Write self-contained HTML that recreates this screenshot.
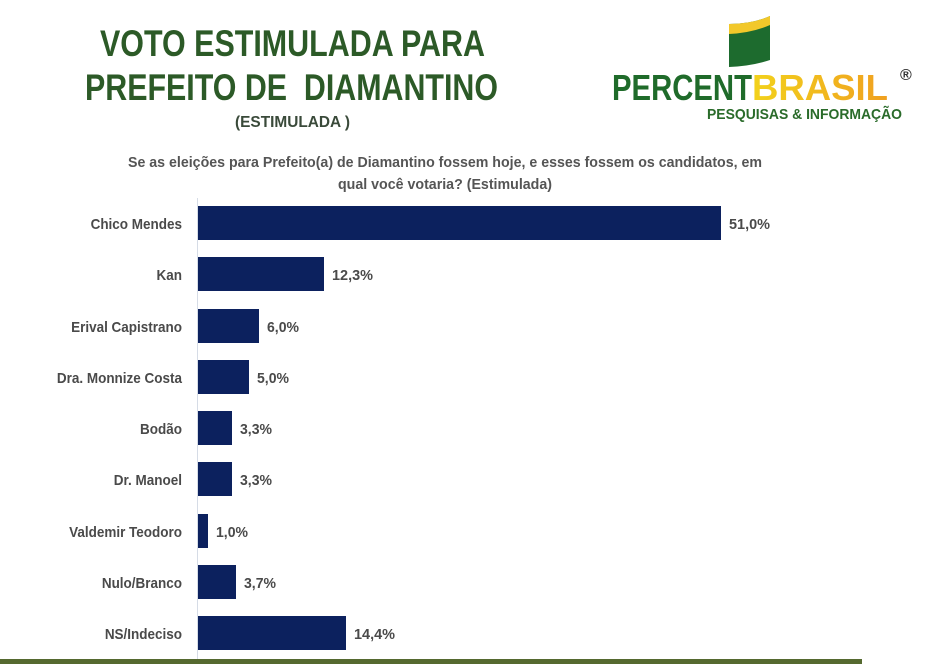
<!DOCTYPE html>
<html><head><meta charset="utf-8"><style>
html,body{margin:0;padding:0;background:#fff;}
svg{display:block;}
text{font-family:"Liberation Sans",sans-serif;font-weight:bold;}
</style></head><body>
<svg width="949" height="664" viewBox="0 0 949 664" xmlns="http://www.w3.org/2000/svg">
<defs>
<linearGradient id="yg" x1="0" x2="1"><stop offset="0" stop-color="#f2d21c"/><stop offset="1" stop-color="#f0a020"/></linearGradient>
</defs>
<rect width="949" height="664" fill="#fff"/>
<text x="100" y="56" font-size="37" fill="#2c5a27" textLength="385" lengthAdjust="spacingAndGlyphs">VOTO ESTIMULADA PARA</text>
<text x="85" y="100" font-size="37" fill="#2c5a27" textLength="413" lengthAdjust="spacingAndGlyphs" xml:space="preserve">PREFEITO DE  DIAMANTINO</text>
<text x="235" y="127" font-size="16" fill="#3a4a3a" textLength="115" lengthAdjust="spacingAndGlyphs" xml:space="preserve">(ESTIMULADA )</text>
<!-- logo -->
<path d="M729 24 Q752 24 770 16 L770 60 Q752 66 729 67 Z" fill="#1d6b2e"/>
<path d="M729 24 Q752 24 770 16 L770 25 Q752 33 729 34 Z" fill="#f2c82a"/>
<text x="612" y="100" font-size="36" fill="#1f6b2a" textLength="140" lengthAdjust="spacingAndGlyphs">PERCENT</text>
<text x="752" y="100" font-size="36" fill="url(#yg)" textLength="136" lengthAdjust="spacingAndGlyphs">BRASIL</text>
<text x="900" y="80" font-size="16" fill="#333">®</text>
<text x="707" y="119" font-size="15" fill="#2a6b2a" textLength="195" lengthAdjust="spacingAndGlyphs">PESQUISAS &amp; INFORMAÇÃO</text>
<!-- question -->
<text x="128" y="167" font-size="15" fill="#555" textLength="634" lengthAdjust="spacingAndGlyphs">Se as eleições para Prefeito(a) de Diamantino fossem hoje, e esses fossem os candidatos, em</text>
<text x="338" y="189" font-size="15" fill="#555" textLength="214" lengthAdjust="spacingAndGlyphs">qual você votaria? (Estimulada)</text>
<line x1="197.5" y1="198" x2="197.5" y2="664" stroke="#d6dce6" stroke-width="1"/>
<g fill="#0c215e">
<rect x="198" y="206" width="523" height="34"/>
<rect x="198" y="257" width="126" height="34"/>
<rect x="198" y="309" width="61" height="34"/>
<rect x="198" y="360" width="51" height="34"/>
<rect x="198" y="411" width="34" height="34"/>
<rect x="198" y="462" width="34" height="34"/>
<rect x="198" y="514" width="10" height="34"/>
<rect x="198" y="565" width="38" height="34"/>
<rect x="198" y="616" width="148" height="34"/>
</g>
<g font-size="15" fill="#4a4a4a" text-anchor="end" transform="translate(182,0) scale(0.9,1) translate(-182,0)">
<text x="182" y="229">Chico Mendes</text>
<text x="182" y="280">Kan</text>
<text x="182" y="332">Erival Capistrano</text>
<text x="182" y="383">Dra. Monnize Costa</text>
<text x="182" y="434">Bodão</text>
<text x="182" y="485">Dr. Manoel</text>
<text x="182" y="537">Valdemir Teodoro</text>
<text x="182" y="588">Nulo/Branco</text>
<text x="182" y="639">NS/Indeciso</text>
</g>
<g font-size="15" fill="#4a4a4a">
<text x="729" y="229" textLength="41" lengthAdjust="spacingAndGlyphs">51,0%</text>
<text x="332" y="280" textLength="41" lengthAdjust="spacingAndGlyphs">12,3%</text>
<text x="267" y="332" textLength="32" lengthAdjust="spacingAndGlyphs">6,0%</text>
<text x="257" y="383" textLength="32" lengthAdjust="spacingAndGlyphs">5,0%</text>
<text x="240" y="434" textLength="32" lengthAdjust="spacingAndGlyphs">3,3%</text>
<text x="240" y="485" textLength="32" lengthAdjust="spacingAndGlyphs">3,3%</text>
<text x="216" y="537" textLength="32" lengthAdjust="spacingAndGlyphs">1,0%</text>
<text x="244" y="588" textLength="32" lengthAdjust="spacingAndGlyphs">3,7%</text>
<text x="354" y="639" textLength="41" lengthAdjust="spacingAndGlyphs">14,4%</text>
</g>
<rect x="0" y="659" width="862" height="5" fill="#55692f"/>
</svg>
</body></html>
